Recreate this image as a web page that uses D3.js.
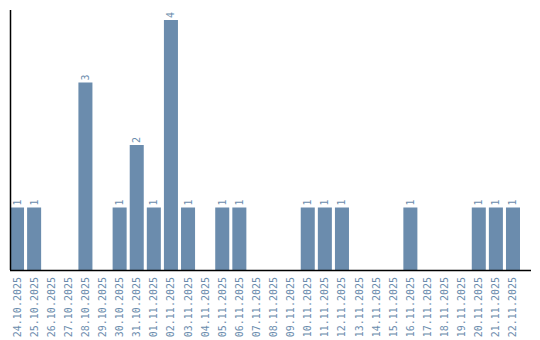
<!DOCTYPE html>
<html><head><meta charset="utf-8">
<script src="https://cdn.jsdelivr.net/npm/d3@7"></script>
<style>body{margin:0;background:#fff}svg{display:block}</style>
</head><body>
<svg id="c" width="540" height="340"></svg>
<script>
const dates = ["24.10.2025","25.10.2025","26.10.2025","27.10.2025","28.10.2025","29.10.2025","30.10.2025","31.10.2025","01.11.2025","02.11.2025","03.11.2025","04.11.2025","05.11.2025","06.11.2025","07.11.2025","08.11.2025","09.11.2025","10.11.2025","11.11.2025","12.11.2025","13.11.2025","14.11.2025","15.11.2025","16.11.2025","17.11.2025","18.11.2025","19.11.2025","20.11.2025","21.11.2025","22.11.2025"];
const counts = [1,1,0,0,3,0,1,2,1,4,1,0,1,1,0,0,0,1,1,1,0,0,0,1,0,0,0,1,1,1];

const color = "#6b8cad";
const font = "DejaVu Sans Mono";
const svg = d3.select("#c");
const x = d3.scaleBand().domain(dates).range([10, 520]).paddingInner(0.18).paddingOuter(0);
const y = d3.scaleLinear().domain([0, 4]).range([270, 20]);

svg.selectAll("rect.bar").data(dates).join("rect")
  .attr("x", d => x(d)).attr("width", x.bandwidth())
  .attr("y", (d,i) => y(counts[i])).attr("height", (d,i) => y(0) - y(counts[i]))
  .attr("fill", color);

svg.selectAll("text.val").data(dates.filter((d,i)=>counts[i]>0)).join("text")
  .attr("transform", d => `translate(${x(d)+x.bandwidth()/2+3.5},${y(counts[dates.indexOf(d)])-2}) rotate(-90)`)
  .attr("font-family",font).attr("font-size","10px").attr("fill",color)
  .text(d => counts[dates.indexOf(d)]);

const xa = svg.append("g").attr("transform","translate(0,270)").call(d3.axisBottom(x).tickSize(0).tickPadding(0));
xa.select(".domain").remove();
xa.selectAll("text").attr("font-family",font).attr("font-size","10px").attr("fill",color)
  .attr("text-anchor","end").attr("dy",null).attr("y",0)
  .attr("transform","translate(3.5,7) rotate(-90)");

svg.append("line").attr("x1",10).attr("x2",531).attr("y1",270.5).attr("y2",270.5).attr("stroke","#000").attr("stroke-width",1.5);
svg.append("line").attr("x1",10.5).attr("x2",10.5).attr("y1",10).attr("y2",270).attr("stroke","#000").attr("stroke-width",1.5);
</script>
</body></html>
